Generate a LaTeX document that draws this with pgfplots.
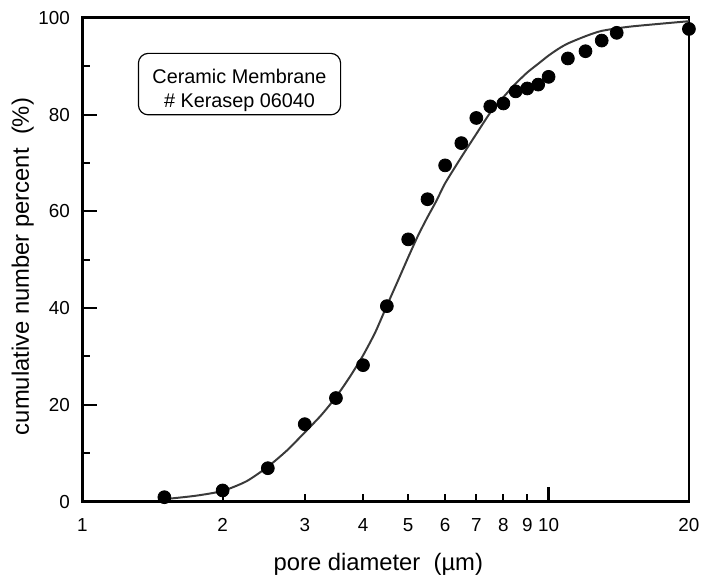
\documentclass[border=0pt]{standalone}
\usepackage{fontspec}
\setmainfont{Liberation Sans}
\usepackage{pgfplots}
\pgfplotsset{compat=1.18}
\definecolor{curvegray}{HTML}{3A3A3A}
\begin{document}
\begin{tikzpicture}
\begin{axis}[
  name=ax,
  xmode=log,
  scale only axis,
  width=306pt, height=244pt,
  xmin=1, xmax=20, ymin=0, ymax=100,
  axis line style={line width=1.4pt},
  tick align=inside,
  tick pos=left,
  every tick/.style={black, line width=1pt},
  major tick length=7.5pt,
  minor tick length=4pt,
  xtick={1,2,3,4,5,6,7,8,9,10,20},
  xticklabels={1,2,3,4,5,6,7,8,9,10,20},
  minor xtick={},
  xtick style={draw=none},
  ytick={0,20,40,60,80,100},
  minor ytick={10,30,50,70,90},
  /pgf/number format/assume math mode=true,
  tick label style={font=\fontsize{9.5}{11}\selectfont},
  xticklabel style={yshift=-5pt},
  yticklabel style={xshift=-2.75pt},
  xlabel={pore diameter\ \ (µm)},
  ylabel={cumulative number percent\ \ (\%)},
  label style={font=\fontsize{12}{13}\selectfont},
  xlabel style={at={(axis description cs:0.488,-0.129)}, anchor=center},
  ylabel style={at={(axis description cs:-0.098,0.486)}, anchor=center},
  clip=false,
]
% fitted curve
\addplot[curvegray, line width=1pt, smooth, tension=0.4] coordinates {
(1.5,0.5) (1.75,1.2) (2.0,2.2) (2.25,4.2) (2.5,7.2) (2.75,10.6)
(3.0,14.3) (3.25,17.8) (3.5,21.6) (3.75,25.8) (4.0,30.2) (4.25,35.0)
(4.5,40.5) (4.75,45.6) (5.0,50.5) (5.25,55.0) (5.5,58.8) (5.75,62.2)
(6.0,65.8) (6.5,71.2) (7.0,76.0) (7.5,80.4) (8.0,83.6) (8.5,86.4)
(9.0,88.7) (9.5,90.5) (10.0,92.2) (10.5,93.6) (11.0,94.7) (12.0,96.2)
(13.0,97.3) (15.0,98.2) (20.0,99.3)
};
% measured points
\addplot[only marks, mark=*, mark size=3.25pt, black] coordinates {
(1.5,0.9) (2.0,2.3) (2.5,6.9) (3.0,16.0) (3.5,21.4) (4.0,28.2)
(4.5,40.4) (5.0,54.2) (5.5,62.5) (6.0,69.5) (6.5,74.1) (7.0,79.3)
(7.5,81.7) (8.0,82.3) (8.5,84.8) (9.0,85.4) (9.5,86.2) (10.0,87.8)
(11.0,91.6) (12.0,93.1) (13.0,95.3) (14.0,96.9) (20.0,97.7)
};
% anchor points for the x-axis tick marks
\coordinate (t2) at (axis cs:2,0);
\coordinate (t3) at (axis cs:3,0);
\coordinate (t4) at (axis cs:4,0);
\coordinate (t5) at (axis cs:5,0);
\coordinate (t6) at (axis cs:6,0);
\coordinate (t7) at (axis cs:7,0);
\coordinate (t8) at (axis cs:8,0);
\coordinate (t9) at (axis cs:9,0);
\coordinate (t10) at (axis cs:10,0);
\node[draw, rounded corners=5pt, line width=0.6pt, minimum width=102pt, minimum height=31pt, inner sep=0pt] at (axis cs:2.174,86.3) {};
\node[align=center, font=\fontsize{10}{11.75}\selectfont, inner sep=0pt] at (axis cs:2.174,85.0) {Ceramic Membrane\\\# Kerasep 06040};
\end{axis}
% x-axis tick marks: short at 2..9, long at 10
\foreach \t in {t2,t3,t4,t5,t6,t7,t8,t9}{
  \draw[black, line width=1.1pt] (\t) -- ++(0,3.8pt);
}
\draw[black, line width=1.1pt] (t10) -- ++(0,7.4pt);
\path ([shift={(-41.5pt,-38.5pt)}]ax.south west) rectangle ([shift={(5.5pt,9pt)}]ax.north east);
\end{tikzpicture}
\end{document}
